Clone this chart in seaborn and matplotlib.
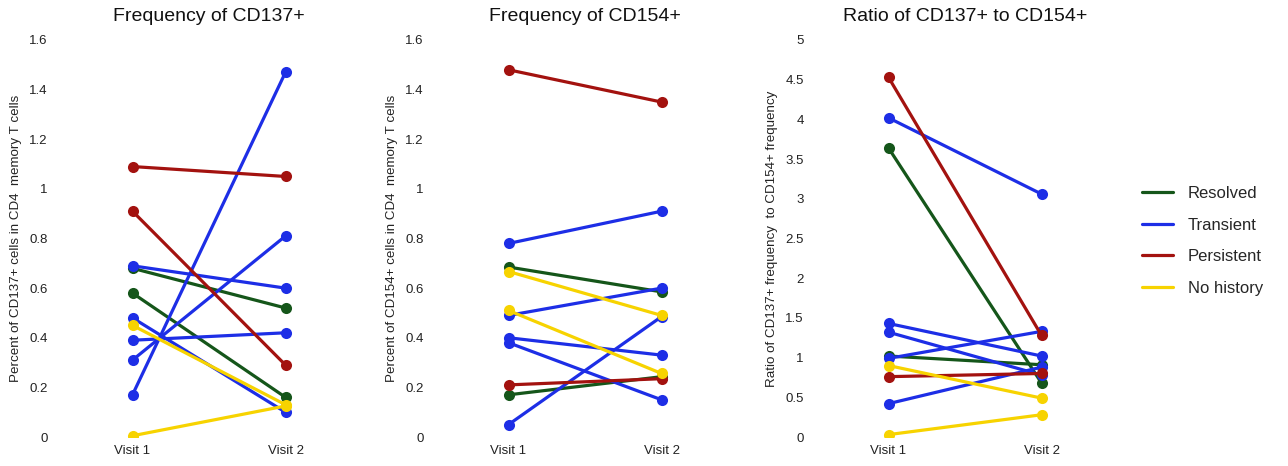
import numpy as np
import pandas as pd
import seaborn as sns
import matplotlib
matplotlib.use("Agg")
import matplotlib.pyplot as plt
from matplotlib.lines import Line2D
from matplotlib.ticker import FuncFormatter

# ---- data ----
groups = ["Resolved", "Resolved",
          "Transient", "Transient", "Transient", "Transient", "Transient",
          "Persistent", "Persistent",
          "No history", "No history"]
visit_labels = ["Visit 1", "Visit 2"]

cd137_v1 = [0.68, 0.58, 0.69, 0.48, 0.39, 0.31, 0.17, 1.09, 0.91, 0.45, 0.005]
cd137_v2 = [0.52, 0.16, 0.60, 0.10, 0.42, 0.81, 1.47, 1.05, 0.29, 0.13, 0.125]

cd154_v1 = [0.685, 0.17, 0.78, 0.49, 0.40, 0.38, 0.05, 1.48, 0.21, 0.667, 0.51]
cd154_v2 = [0.585, 0.243, 0.91, 0.60, 0.33, 0.15, 0.485, 1.35, 0.235, 0.49, 0.256]

ratio_v1 = [3.64, 1.02, 4.02, 1.43, 1.32, 0.99, 0.42, 4.53, 0.76, 0.90, 0.03]
ratio_v2 = [0.68, 0.91, 3.06, 1.02, 0.78, 1.33, 0.88, 1.28, 0.80, 0.49, 0.28]

titles = ["Frequency of CD137+", "Frequency of CD154+", "Ratio of CD137+ to CD154+"]
ylabels = ["Percent of CD137+ cells in CD4  memory T cells",
           "Percent of CD154+ cells in CD4  memory T cells",
           "Ratio of CD137+ frequency  to CD154+ frequency"]
yticks_list = [[0, 0.2, 0.4, 0.6, 0.8, 1, 1.2, 1.4, 1.6],
               [0, 0.2, 0.4, 0.6, 0.8, 1, 1.2, 1.4, 1.6],
               [0, 0.5, 1, 1.5, 2, 2.5, 3, 3.5, 4, 4.5, 5]]

palette = {"Resolved": "#15561a", "Transient": "#1d2ee6",
           "Persistent": "#a3120f", "No history": "#f7d300"}
hue_order = ["Resolved", "Transient", "Persistent", "No history"]

def long_df(v1, v2):
    rows = []
    for i, g in enumerate(groups):
        rows.append({"subject": i, "group": g, "visit": 1, "value": v1[i]})
        rows.append({"subject": i, "group": g, "visit": 2, "value": v2[i]})
    return pd.DataFrame(rows)

panels = [long_df(cd137_v1, cd137_v2), long_df(cd154_v1, cd154_v2),
          long_df(ratio_v1, ratio_v2)]

sns.set_theme(style="white")
plt.rcParams["font.family"] = ["Liberation Sans", "DejaVu Sans"]

fig = plt.figure(figsize=(12.88, 4.66), dpi=100)
lefts = [56 / 1288, 432 / 1288, 812 / 1288]
width = 306 / 1288
bottom = 29 / 466
height = 397 / 466

for k, df in enumerate(panels):
    ax = fig.add_axes([lefts[k], bottom, width, height])
    sns.lineplot(data=df, x="visit", y="value", hue="group", units="subject",
                 estimator=None, palette=palette, hue_order=hue_order,
                 marker="o", markersize=8, markeredgewidth=0, linewidth=2.3,
                 legend=False, ax=ax)
    ax.set_xlim(0.5, 2.5)
    yt = yticks_list[k]
    ax.set_ylim(yt[0], yt[-1])
    ax.set_yticks(yt)
    ax.yaxis.set_major_formatter(FuncFormatter(lambda v, p: "%g" % v))
    ax.set_xticks([1, 2])
    ax.set_xticklabels(visit_labels)
    ax.tick_params(axis="both", length=0, labelsize=9.5, colors="#222222")
    ax.tick_params(axis="y", pad=6)
    ax.tick_params(axis="x", pad=6)
    for s in ax.spines.values():
        s.set_visible(False)
    ax.set_xlabel("")
    ax.set_ylabel(ylabels[k], fontsize=9.6, color="#222222", labelpad=5)
    ax.set_title(titles[k], fontsize=14, color="#111111", pad=14)

handles = [Line2D([0], [0], color=palette[g], lw=2.3) for g in hue_order]
fig.legend(handles, hue_order, loc="center left", bbox_to_anchor=(1127 / 1288, 225 / 466),
           frameon=False, fontsize=12, handlelength=1.85, labelspacing=1.0,
           handletextpad=0.9)

fig.savefig("out.png", dpi=100)
